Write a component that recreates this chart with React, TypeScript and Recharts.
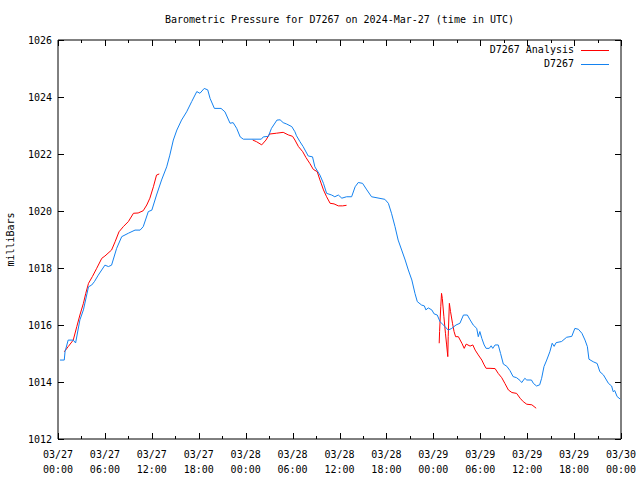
import { LineChart, Line, XAxis, YAxis, ReferenceArea, Legend } from "recharts";

// hours since 2024-03-27 00:00 UTC
const stationHours = [
  0.25, 0.8, 0.9, 1.3, 1.95, 2.25, 2.8, 3.25, 3.9, 4.3, 4.65, 5.15, 6.0, 6.45, 6.85, 7.5, 8.15, 9.0, 9.85, 10.5,
  10.9, 11.55, 12.0, 12.6, 13.25, 13.9, 14.3, 14.75, 15.2, 15.8, 16.45, 17.1, 17.75, 18.15, 18.7, 19.15, 19.45, 20.0,
  20.85, 21.35, 22.0, 22.4, 22.85, 23.3, 23.7, 26.0, 26.25, 26.9, 27.3, 28.0, 28.4, 28.8, 29.25, 29.9, 30.3, 30.5,
  30.95, 31.35, 32.0, 32.55, 32.85, 33.5, 33.95, 34.35, 35.0, 35.4, 35.85, 36.3, 36.9, 37.55, 38.0, 38.4, 38.95, 39.5,
  40.1, 41.8, 42.25, 42.65, 43.1, 43.5, 43.95, 44.4, 44.8, 45.25, 45.65, 45.95, 46.5, 46.85, 47.05, 47.35, 47.8, 48.1,
  48.5, 48.85, 49.5, 49.9, 50.35, 50.9, 51.4, 51.85, 52.35, 52.7, 53.1, 53.55, 53.75, 53.95, 54.2, 54.5, 54.75, 55.15,
  55.4, 55.6, 55.9, 56.3, 56.6, 56.95, 57.4, 57.8, 58.2, 58.65, 59.1, 59.3, 59.7, 59.95, 60.55, 60.8, 61.2, 61.6,
  61.85, 62.15, 62.5, 62.9, 63.2, 63.45, 63.7, 64.4, 65.05, 65.7, 66.1, 66.55, 67.0, 67.4, 67.7, 67.9, 68.45, 68.95,
  69.3, 69.75, 70.4, 70.8, 71.0, 71.2, 71.5, 71.9,
];
const stationPressure = [
  1014.77, 1014.77, 1015.06, 1015.47, 1015.47, 1015.37, 1016.18, 1016.53, 1017.34, 1017.4, 1017.52, 1017.75, 1018.1,
  1018.05, 1018.1, 1018.69, 1019.1, 1019.22, 1019.33, 1019.33, 1019.45, 1019.98, 1020.03, 1020.56, 1021.09, 1021.55,
  1021.96, 1022.49, 1022.84, 1023.19, 1023.48, 1023.84, 1024.19, 1024.13, 1024.3, 1024.25, 1023.95, 1023.6, 1023.6,
  1023.48, 1023.08, 1023.1, 1022.9, 1022.6, 1022.52, 1022.52, 1022.6, 1022.62, 1022.9, 1023.19, 1023.2, 1023.1,
  1023.05, 1022.96, 1022.78, 1022.64, 1022.43, 1022.26, 1021.93, 1021.9, 1021.55, 1021.26, 1020.97, 1020.62, 1020.56,
  1020.5, 1020.56, 1020.45, 1020.5, 1020.5, 1020.85, 1021.0, 1020.97, 1020.74, 1020.5, 1020.41, 1020.27, 1019.92,
  1019.45, 1018.98, 1018.63, 1018.28, 1017.93, 1017.58, 1017.11, 1016.82, 1016.7, 1016.67, 1016.53, 1016.6, 1016.53,
  1016.39, 1016.35, 1016.12, 1015.94, 1015.82, 1015.88, 1016.0, 1016.06, 1016.35, 1016.35, 1016.18, 1016.0, 1015.88,
  1015.59, 1015.77, 1015.53, 1015.3, 1015.18, 1015.18, 1015.27, 1015.18, 1015.3, 1015.3, 1015.0, 1014.63, 1014.55,
  1014.4, 1014.19, 1014.15, 1014.05, 1013.98, 1014.13, 1014.07, 1014.07, 1013.95, 1013.86, 1013.9, 1014.13, 1014.54,
  1014.77, 1015.06, 1015.36, 1015.25, 1015.38, 1015.42, 1015.57, 1015.6, 1015.88, 1015.85, 1015.71, 1015.47, 1015.24,
  1014.8, 1014.71, 1014.65, 1014.36, 1014.25, 1013.95, 1013.86, 1013.66, 1013.7, 1013.49, 1013.4,
];

// null marks a gap in the analysis series
const analysisHours = [
  0.8, 1.3, 1.95, 2.4, 2.8, 3.25, 3.55, 3.9, 4.4, 4.95, 5.6, 6.0, 6.85, 7.3, 7.8, 8.35, 9.0, 9.65, 10.25, 10.9, 11.35,
  11.75, 12.2, 12.6, 12.95, 18.0, 24.9, 25.4, 26.05, 26.6, 27.05, 27.95, 28.8, 29.45, 30.0, 30.3, 30.75, 31.3, 31.7,
  32.2, 32.65, 33.15, 33.5, 33.95, 34.35, 34.8, 35.3, 35.85, 36.4, 36.9, 42.0, 48.75, 48.8, 48.95, 49.05, 49.15,
  49.35, 49.55, 49.7, 49.85, 49.9, 50.05, 50.2, 50.45, 50.65, 50.85, 51.2, 51.65, 51.95, 52.2, 52.7, 53.05, 53.35,
  53.75, 54.2, 54.5, 54.75, 55.25, 55.9, 56.3, 56.75, 57.15, 57.6, 58.05, 58.65, 59.1, 59.5, 59.95, 60.6, 61.15,
];
const analysisPressure = [
  1015.06, 1015.24, 1015.47, 1015.94, 1016.35, 1016.76, 1017.11, 1017.46, 1017.7, 1017.99, 1018.34, 1018.42, 1018.63,
  1018.92, 1019.27, 1019.45, 1019.63, 1019.92, 1019.93, 1020.01, 1020.21, 1020.45, 1020.85, 1021.26, 1021.3, null,
  1022.49, 1022.43, 1022.32, 1022.49, 1022.7, 1022.73, 1022.76, 1022.67, 1022.62, 1022.49, 1022.26, 1022.08, 1021.88,
  1021.67, 1021.46, 1021.38, 1021.09, 1020.74, 1020.5, 1020.27, 1020.25, 1020.18, 1020.18, 1020.2, null, 1015.36,
  1015.77, 1016.64, 1017.11, 1016.93, 1016.29, 1015.71, 1015.3, 1014.89, 1015.59, 1016.76, 1016.47, 1016.06, 1015.77,
  1015.59, 1015.59, 1015.36, 1015.18, 1015.33, 1015.26, 1015.3, 1015.12, 1014.95, 1014.77, 1014.6, 1014.48, 1014.48,
  1014.47, 1014.3, 1014.15, 1013.95, 1013.72, 1013.63, 1013.6, 1013.43, 1013.31, 1013.22, 1013.2, 1013.08,
];

const hourTicks = [0, 3, 6, 9, 12, 15, 18, 21, 24, 27, 30, 33, 36, 39, 42, 45, 48, 51, 54, 57, 60, 63, 66, 69, 72];
const tickDates = ["03/27", "03/27", "03/27", "03/27", "03/28", "03/28", "03/28", "03/28", "03/29", "03/29", "03/29", "03/29", "03/30"];
const tickTimes = ["00:00", "06:00", "12:00", "18:00", "00:00", "06:00", "12:00", "18:00", "00:00", "06:00", "12:00", "18:00", "00:00"];
const pressureTicks = [1012, 1014, 1016, 1018, 1020, 1022, 1024, 1026];

const seriesNames = ["D7267 Analysis", "D7267"];
const seriesColors = ["#ff0000", "#1482f0"];

const stationData = stationHours.map((h, i) => ({ h, p: stationPressure[i] }));
const analysisData = analysisHours.map((h, i) => ({ h, p: analysisPressure[i] }));

const FONT = "'DejaVu Sans Mono', monospace";
const TOP = 40;
const BOTTOM = 439;
const LEFT = 58;
const RIGHT = 621;

const XTick = (props: any) => {
  const { x, payload } = props;
  const h = payload.value;
  const major = h % 6 === 0;
  const len = major ? 6 : 3;
  const i = h / 6;
  const px = Math.round(x) + 0.5;
  return (
    <g>
      <line x1={px} x2={px} y1={BOTTOM} y2={BOTTOM - len} stroke="#000" />
      <line x1={px} x2={px} y1={TOP} y2={TOP + len} stroke="#000" />
      {major && (
        <text x={x} y={BOTTOM + 19} textAnchor="middle" fontFamily={FONT} fontSize={10} fill="#000">
          <tspan x={x}>{tickDates[i]}</tspan>
          <tspan x={x} dy={15}>{tickTimes[i]}</tspan>
        </text>
      )}
    </g>
  );
};

const YTick = (props: any) => {
  const { y, payload } = props;
  const py = Math.round(y) + 0.5;
  return (
    <g>
      <line x1={LEFT} x2={LEFT + 6} y1={py} y2={py} stroke="#000" />
      <line x1={RIGHT} x2={RIGHT - 6} y1={py} y2={py} stroke="#000" />
      <text x={LEFT - 6} y={y + 4} textAnchor="end" fontFamily={FONT} fontSize={10} fill="#000">
        {payload.value}
      </text>
    </g>
  );
};

const renderLegend = () => (
  <div style={{ fontFamily: FONT, fontSize: 10, lineHeight: "14px", color: "#000" }}>
    {seriesNames.map((name, i) => (
      <div key={name} style={{ display: "flex", alignItems: "center", justifyContent: "flex-end" }}>
        <span>{name}</span>
        <span
          style={{ display: "inline-block", width: 28, height: 0, borderTop: `1px solid ${seriesColors[i]}`, marginLeft: 7 }}
        />
      </div>
    ))}
  </div>
);

const App = () => {
  return (
    <div style={{ position: "absolute", left: 0, top: 0, width: 640, height: 480, background: "#fff" }}>
      <div
        style={{
          position: "absolute",
          left: LEFT,
          width: RIGHT - LEFT,
          top: 14,
          textAlign: "center",
          fontFamily: FONT,
          fontSize: 10,
        }}
      >
        Barometric Pressure for D7267 on 2024-Mar-27 (time in UTC)
      </div>
      <LineChart width={640} height={480} margin={{ top: TOP, right: 640 - RIGHT, left: 0, bottom: 0 }}>
        <XAxis
          dataKey="h"
          type="number"
          domain={[0, 72]}
          ticks={hourTicks}
          tick={<XTick />}
          tickLine={false}
          axisLine={false}
          height={480 - BOTTOM}
          interval={0}
          allowDataOverflow
        />
        <YAxis
          type="number"
          domain={[1012, 1026]}
          ticks={pressureTicks}
          tick={<YTick />}
          tickLine={false}
          axisLine={false}
          width={LEFT}
          interval={0}
          label={{
            content: () => (
              <text
                x={14}
                y={(TOP + BOTTOM) / 2}
                transform={`rotate(-90 14 ${(TOP + BOTTOM) / 2})`}
                textAnchor="middle"
                fontFamily={FONT}
                fontSize={10}
                fill="#000"
              >
                milliBars
              </text>
            ),
          }}
        />
        <ReferenceArea x1={0} x2={72} y1={1012} y2={1026} fill="none" stroke="#000" strokeOpacity={1} />
        <Legend
          layout="vertical"
          align="center"
          verticalAlign="middle"
          wrapperStyle={{ top: 43, right: 31, width: 200 }}
          content={renderLegend}
        />
        <Line
          data={analysisData}
          dataKey="p"
          name={seriesNames[0]}
          stroke={seriesColors[0]}
          strokeWidth={1}
          dot={false}
          activeDot={false}
          isAnimationActive={false}
          connectNulls={false}
        />
        <Line
          data={stationData}
          dataKey="p"
          name={seriesNames[1]}
          stroke={seriesColors[1]}
          strokeWidth={1}
          dot={false}
          activeDot={false}
          isAnimationActive={false}
        />
      </LineChart>
    </div>
  );
};

export default App;
